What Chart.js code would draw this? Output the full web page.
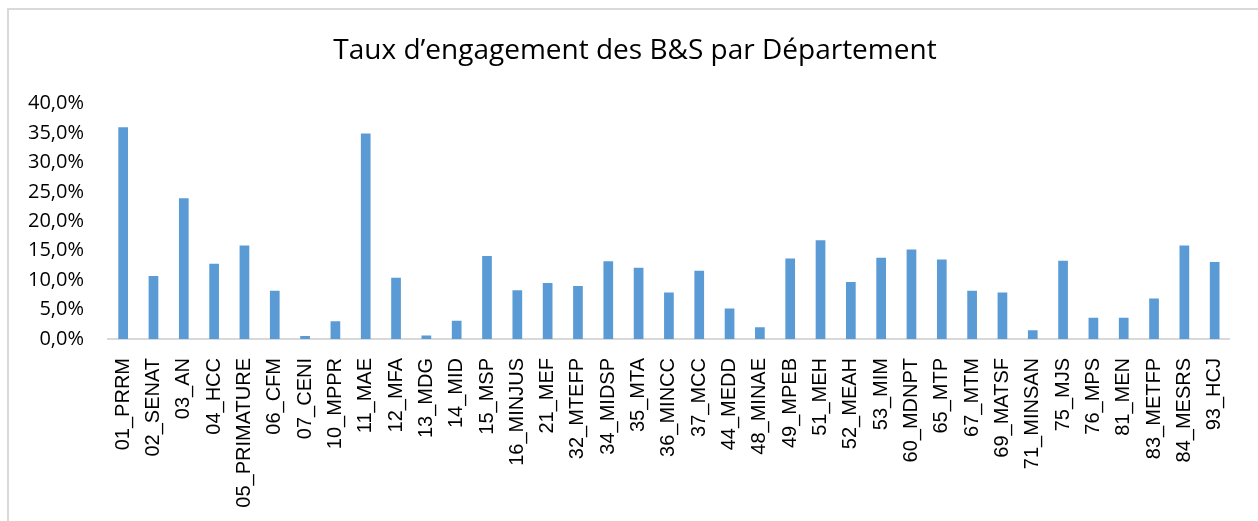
<!DOCTYPE html>
<html lang="fr">
<head>
    <meta charset="UTF-8">
    <title>Taux d'engagement des B&amp;S par Département</title>
    <script src="https://cdn.jsdelivr.net/npm/chart.js@4.4.3/dist/chart.umd.min.js"></script>
    <style>
        html, body { margin: 0; padding: 0; background: #fff; overflow: hidden; }
        .frame {
            position: absolute; left: 7px; top: 8px; right: -10px; bottom: -10px;
            border-left: 2px solid #d9d9d9; border-top: 2px solid #d9d9d9;
        }
        .chart-container { position: absolute; left: 0; top: 0; width: 1258px; height: 521px; }
    </style>
</head>
<body>
    <div class="frame"></div>
    <div class="chart-container">
        <canvas id="engagementChart"></canvas>
    </div>

    <script>
        // Departments (x axis)
        const departements = [
            '01_PRRM', '02_SENAT', '03_AN', '04_HCC', '05_PRIMATURE', '06_CFM', '07_CENI',
            '10_MPPR', '11_MAE', '12_MFA', '13_MDG', '14_MID', '15_MSP', '16_MINJUS',
            '21_MEF', '32_MTEFP', '34_MIDSP', '35_MTA', '36_MINCC', '37_MCC', '44_MEDD',
            '48_MINAE', '49_MPEB', '51_MEH', '52_MEAH', '53_MIM', '60_MDNPT', '65_MTP',
            '67_MTM', '69_MATSF', '71_MINSAN', '75_MJS', '76_MPS', '81_MEN', '83_METFP',
            '84_MESRS', '93_HCJ'
        ];

        // Engagement rate (fraction)
        const tauxEngagement = [
            0.360, 0.107, 0.239, 0.128, 0.159, 0.082, 0.005,
            0.030, 0.349, 0.104, 0.006, 0.031, 0.141, 0.083,
            0.095, 0.090, 0.132, 0.121, 0.079, 0.116, 0.052,
            0.020, 0.137, 0.168, 0.097, 0.138, 0.152, 0.135,
            0.082, 0.079, 0.015, 0.133, 0.036, 0.036, 0.069,
            0.159, 0.131
        ];

        // y axis range
        const yMin = 0;
        const yMax = 0.4;
        const yStep = 0.05;

        const fmtPct = v => (v * 100).toFixed(1).replace('.', ',') + '%';

        const ctx = document.getElementById('engagementChart').getContext('2d');
        new Chart(ctx, {
            type: 'bar',
            data: {
                labels: departements,
                datasets: [{
                    label: 'Taux d\u2019engagement',
                    data: tauxEngagement,
                    backgroundColor: '#5b9bd5',
                    borderWidth: 0,
                    barPercentage: 0.32,
                    categoryPercentage: 1.0
                }]
            },
            options: {
                responsive: true,
                maintainAspectRatio: false,
                animation: false,
                layout: {
                    // small left offset so the title sits a bit right of canvas centre
                    padding: { top: 0, right: 0, bottom: 0, left: 12 }
                },
                scales: {
                    x: {
                        grid: { display: false, drawTicks: false },
                        border: { display: true, color: '#d9d9d9', width: 2 },
                        ticks: {
                            color: '#000',
                            font: { family: 'Liberation Sans', size: 20 },
                            minRotation: 90,
                            maxRotation: 90,
                            autoSkip: false,
                            padding: 19
                        },
                        afterFit: axis => { axis.height = 182; }
                    },
                    y: {
                        min: yMin,
                        max: yMax,
                        grid: { display: false, drawTicks: false },
                        border: { display: false },
                        ticks: {
                            stepSize: yStep,
                            color: '#000',
                            font: { family: 'Open Sans', size: 20 },
                            padding: 24,
                            callback: v => fmtPct(v)
                        },
                        afterFit: axis => { axis.width = 96; }
                    },
                    // empty spacer on the right of the plot
                    yRight: {
                        type: 'linear',
                        position: 'right',
                        grid: { display: false, drawTicks: false },
                        border: { display: false },
                        ticks: { display: false },
                        afterFit: axis => { axis.width = 24; }
                    }
                },
                plugins: {
                    legend: { display: false },
                    tooltip: { enabled: false },
                    title: {
                        display: true,
                        text: 'Taux d\u2019engagement des B&S par Département',
                        color: '#000',
                        font: { family: 'Open Sans', size: 28, weight: 'normal' },
                        padding: { top: 34, bottom: 36 }
                    }
                }
            }
        });
    </script>
</body>
</html>
